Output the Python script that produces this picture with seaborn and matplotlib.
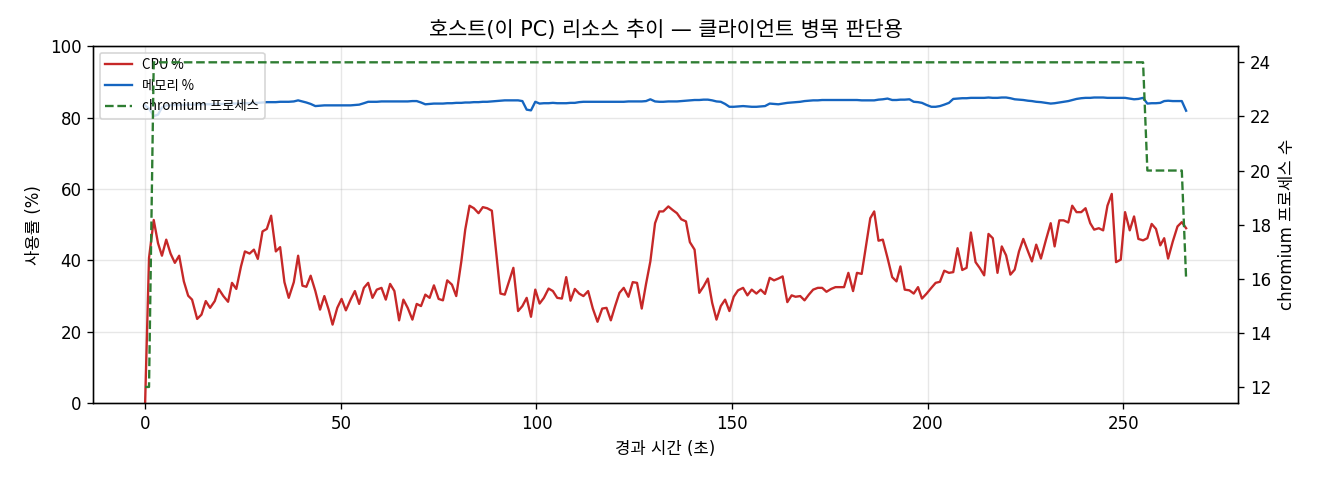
import numpy as np
import pandas as pd
import matplotlib
matplotlib.use("Agg")
import matplotlib.pyplot as plt
import seaborn as sns

plt.rcParams['font.family'] = ['DejaVu Sans', 'Noto Sans CJK KR']
plt.rcParams['axes.unicode_minus'] = False

# 경과 시간 (초)
t = [0, 1.0, 2.2, 3.3, 4.3, 5.4, 6.5, 7.6, 8.7, 9.9, 11.0, 12.0, 13.3, 14.4, 15.5, 16.6, 17.8, 18.8, 20.0, 21.2,
     22.2, 23.3, 24.5, 25.5, 26.7, 27.8, 28.8, 30.0, 31.1, 32.2, 33.4, 34.5, 35.6, 36.7,
     38.0, 39.1, 40.2, 41.2, 42.3, 43.5, 44.7, 45.8, 46.9, 47.9, 49.1, 50.2, 51.3, 52.5, 53.6, 54.7, 55.9, 57.0,
     58.1, 59.2, 60.4, 61.5, 62.6, 63.7, 64.9, 66.0, 67.1, 68.3, 69.4, 70.5, 71.6, 72.7, 73.8, 75.0,
     76.1, 77.2, 78.4, 79.5, 80.8, 81.8, 82.9, 84.0, 85.2, 86.3, 87.4, 88.6, 89.7, 90.8, 91.9, 93.0, 94.1, 95.3,
     96.4, 97.5, 98.6, 99.7, 100.8, 101.9, 103.1, 104.2, 105.3, 106.5, 107.6, 108.7, 109.8, 110.9, 112.0, 113.2,
     114.4, 115.6, 116.8, 117.9, 119.0, 120.1, 121.2, 122.3, 123.5, 124.6, 125.7, 126.9, 128.0, 129.1, 130.3,
     131.4, 132.4, 133.7, 134.8, 135.9, 137.0, 138.2, 139.2, 140.4, 141.6, 142.7, 143.8, 144.9, 146.0, 147.1,
     148.2, 149.3, 150.4, 151.5,
     152.8, 153.9, 155.0, 156.2, 157.3, 158.4, 159.6, 160.7, 161.8, 162.9, 164.1, 165.2, 166.2, 167.4, 168.5,
     169.6, 170.7, 171.9, 173.0, 174.1, 175.3, 176.4, 177.5, 178.6, 179.7, 180.9, 181.9, 183.1, 184.2, 185.3,
     186.3, 187.4, 188.5, 189.7,
     190.9, 192.0, 193.0, 194.1, 195.3, 196.4, 197.5, 198.5, 199.7, 200.9, 202.0, 203.1, 204.2, 205.4, 206.5,
     207.6, 208.8, 209.9, 211.0, 212.2, 213.3, 214.4, 215.5, 216.6, 217.8, 218.9, 220.0, 221.1, 222.2, 223.3,
     224.4, 225.6, 226.6, 227.7,
     228.9, 230.2, 231.4, 232.4, 233.6, 234.7, 235.9, 236.9, 238.0, 239.2, 240.3, 241.5, 242.5, 243.7, 244.8,
     245.9, 247.0, 248.1, 249.3, 250.4, 251.6, 252.7, 253.8, 255.0, 256.1, 257.2, 258.3, 259.4, 260.4, 261.4,
     262.6, 263.8, 264.9, 266.0]

# CPU %
cpu = [0, 40.7, 51.3, 44.8, 41.3, 45.8, 41.9, 39.3, 41.3, 34.1, 30.1, 29.0, 23.6, 24.8, 28.6, 26.7, 28.6, 32.0,
       30.0, 28.4, 33.7, 32.0, 38.3, 42.5, 41.9, 43.0, 40.4, 48.1, 48.8, 52.5, 42.5, 43.7, 33.9, 29.5,
       33.9, 41.3, 32.9, 32.6, 35.7, 31.4, 26.2, 30.0, 26.2, 22.0, 26.7, 29.2, 26.0, 29.0, 31.4, 27.8, 32.3, 33.7,
       29.5, 31.8, 32.3, 29.0, 33.4, 31.4, 23.2, 29.0, 26.7, 23.4, 27.8, 27.2, 30.4, 29.5, 33.0, 29.2,
       28.8, 34.4, 33.2, 30.0, 39.7, 48.6, 55.3, 54.6, 53.2, 54.9, 54.6, 53.9, 42.2, 30.7, 30.4, 34.2, 37.9, 25.8,
       27.2, 29.5, 24.2, 31.8, 27.9, 29.5, 32.1, 31.4, 29.5, 29.3, 35.3, 28.7, 32.0, 30.7, 30.0, 31.4,
       26.5, 22.8, 26.5, 26.7, 23.2, 27.2, 30.9, 32.3, 29.8, 33.9, 33.7, 26.5, 33.4, 39.7, 50.4, 53.7, 53.7, 55.1,
       54.1, 53.2, 51.5, 50.9, 45.1, 43.0, 30.9, 32.7, 34.9, 28.1, 23.4, 27.2, 29.0, 25.8, 29.8, 31.6,
       32.3, 30.2, 31.8, 30.7, 31.8, 30.6, 35.1, 34.4, 34.9, 35.5, 28.3, 30.2, 29.8, 30.0, 28.8, 30.4, 31.8, 32.3,
       32.3, 31.2, 32.0, 32.5, 32.5, 32.5, 36.5, 31.4, 36.5, 36.2, 43.9, 51.8, 53.7, 45.5, 45.8, 40.7,
       35.3, 34.1, 38.3, 31.8, 31.6, 30.7, 32.5, 29.3, 30.7, 32.3, 33.7, 34.0, 37.1, 36.5, 36.7, 43.4, 37.3, 37.9,
       47.8, 39.5, 37.8, 35.8, 47.4, 46.2, 36.5, 43.9, 41.4, 36.0, 37.4, 42.5, 46.0, 42.5, 39.7, 44.4,
       40.5, 45.8, 50.4, 43.9, 51.2, 51.2, 50.6, 55.3, 53.5, 53.5, 54.6, 50.4, 48.6, 49.0, 48.4, 55.3, 58.6, 39.5,
       40.2, 53.5, 48.4, 52.3, 46.0, 45.6, 46.2, 50.2, 48.8, 44.2, 46.2, 40.5, 45.3, 49.5, 50.7, 49.0]

# 메모리 %
mem = [83.4, 82.5, 80.4, 80.8, 82.8, 83.4, 83.4, 83.5, 83.5, 83.5, 83.6, 83.6, 83.6, 83.7, 83.7, 83.7, 83.8,
       83.8, 83.8, 83.9, 83.9, 83.9, 84.0, 84.0, 84.0, 84.1, 84.1, 84.2, 84.3, 84.3, 84.3, 84.4, 84.4, 84.4,
       84.5, 84.8, 84.5, 84.2, 83.8, 83.2, 83.3, 83.4, 83.4, 83.4, 83.4, 83.4, 83.4, 83.4, 83.5, 83.6, 84.0, 84.4,
       84.4, 84.4, 84.5, 84.5, 84.5, 84.5, 84.5, 84.5, 84.5, 84.6, 84.6, 84.2, 83.7, 83.8, 83.9, 83.9,
       83.9, 84.0, 84.0, 84.1, 84.1, 84.2, 84.2, 84.3, 84.3, 84.4, 84.4, 84.5, 84.6, 84.7, 84.8, 84.8, 84.8, 84.8,
       84.6, 82.2, 82.0, 84.4, 83.9, 84.0, 84.0, 84.1, 84.0, 84.0, 84.0, 84.1, 84.1, 84.3, 84.4, 84.4,
       84.4, 84.4, 84.4, 84.4, 84.4, 84.4, 84.4, 84.4, 84.5, 84.5, 84.5, 84.5, 84.6, 85.1, 84.5, 84.4, 84.4, 84.5,
       84.5, 84.5, 84.6, 84.7, 84.8, 84.9, 84.9, 85.0, 85.0, 84.8, 84.5, 84.4, 83.8, 83.0, 83.0, 83.1,
       83.2, 83.1, 83.0, 83.0, 83.1, 83.2, 83.9, 83.8, 83.7, 83.9, 84.1, 84.2, 84.3, 84.4, 84.6, 84.7, 84.8, 84.8,
       84.9, 84.9, 84.9, 84.9, 84.9, 84.9, 84.9, 84.9, 84.9, 84.8, 84.8, 84.8, 84.8, 85.0, 85.1, 85.3,
       84.9, 84.9, 85.0, 85.0, 85.1, 84.4, 84.3, 84.1, 83.5, 83.0, 83.0, 83.2, 83.6, 84.1, 85.2, 85.3, 85.4, 85.4,
       85.5, 85.5, 85.5, 85.5, 85.6, 85.5, 85.5, 85.6, 85.6, 85.4, 85.1, 85.0, 84.9, 84.7, 84.6, 84.4,
       84.3, 84.1, 83.9, 84.0, 84.2, 84.4, 84.6, 84.9, 85.2, 85.4, 85.5, 85.5, 85.6, 85.6, 85.6, 85.5, 85.5, 85.5,
       85.5, 85.5, 85.3, 85.1, 85.2, 85.5, 83.9, 84.0, 84.0, 84.1, 84.6, 84.7, 84.6, 84.6, 84.6, 81.9]

# chromium 프로세스 수
procs = [12, 12] + [24] * 226 + [20] * 9 + [16]

df = pd.DataFrame({'t': t, 'cpu': cpu, 'mem': mem, 'procs': procs})

fig, ax = plt.subplots(figsize=(11, 4), dpi=120)
sns.lineplot(data=df, x='t', y='cpu', ax=ax, color='#c62828', linewidth=1.4, label='CPU %')
sns.lineplot(data=df, x='t', y='mem', ax=ax, color='#1565c0', linewidth=1.4, label='메모리 %')
ax.set_ylim(0, 100)
ax.set_xlabel('경과 시간 (초)')
ax.set_ylabel('사용률 (%)')
ax.grid(True, alpha=0.3)

ax2 = ax.twinx()
sns.lineplot(data=df, x='t', y='procs', ax=ax2, color='#2e7d32', linewidth=1.4, linestyle='--',
             label='chromium 프로세스')
ax2.set_ylabel('chromium 프로세스 수')
if ax2.get_legend() is not None:
    ax2.get_legend().remove()

h1, l1 = ax.get_legend_handles_labels()
h2, l2 = ax2.get_legend_handles_labels()
ax.legend(h1 + h2, l1 + l2, loc='upper left',
          prop={'family': ['Noto Sans CJK KR', 'DejaVu Sans'], 'size': 8})

ax.set_title('호스트(이 PC) 리소스 추이 — 클라이언트 병목 판단용', fontsize=12.5)
fig.subplots_adjust(left=0.0705, right=0.938, top=0.904, bottom=0.16)
fig.savefig('out.png')
